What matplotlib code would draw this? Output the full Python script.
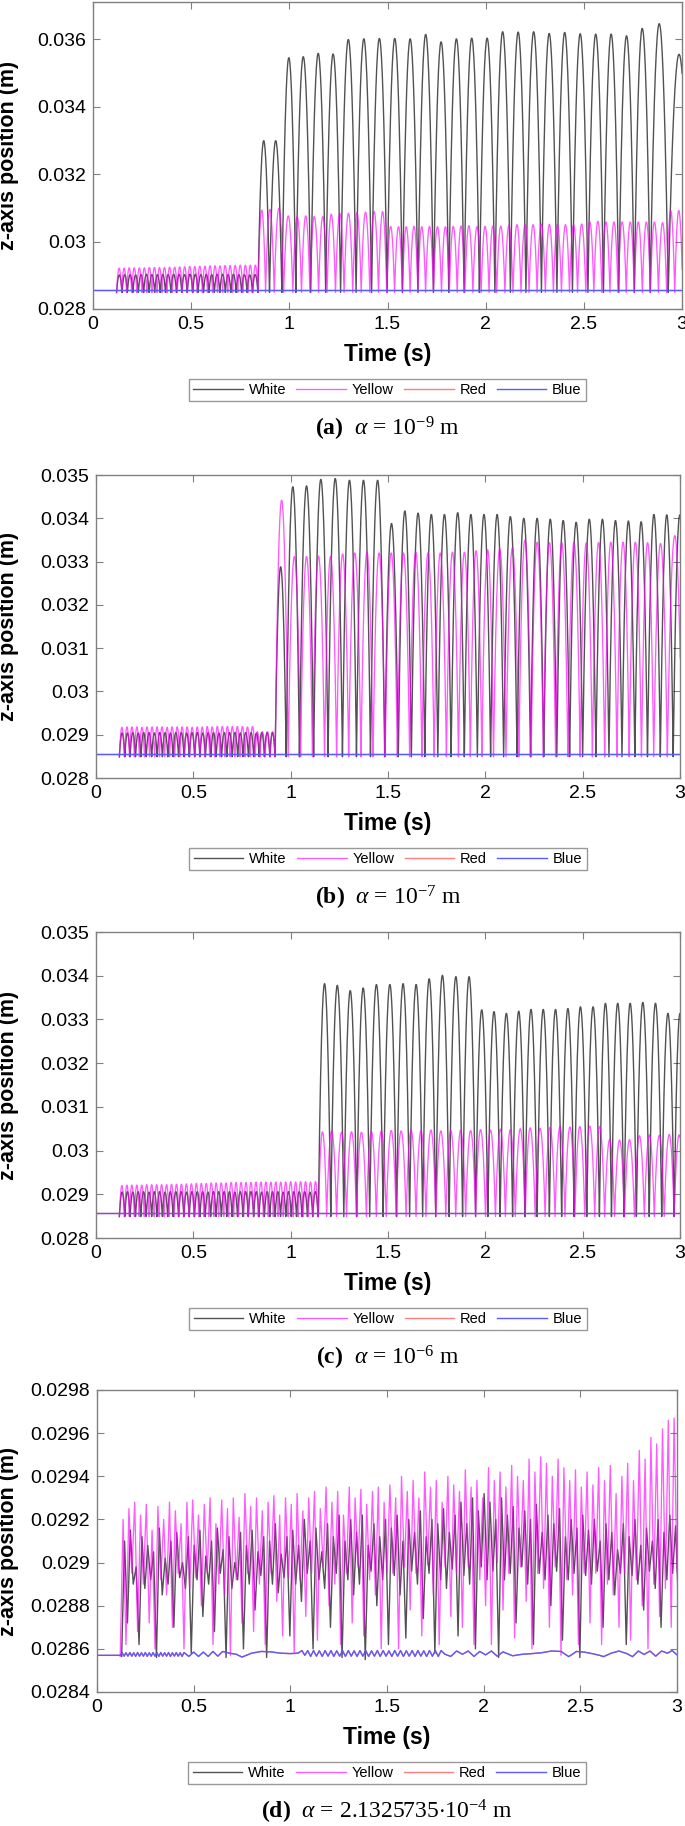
import numpy as np
import matplotlib
matplotlib.use("Agg")
import matplotlib.pyplot as plt
from matplotlib.ticker import FormatStrFormatter, MultipleLocator

plt.rcParams['font.family'] = ['Liberation Sans', 'DejaVu Sans']
plt.rcParams['mathtext.fontset'] = 'custom'
plt.rcParams['mathtext.rm'] = 'Liberation Serif'
plt.rcParams['mathtext.it'] = 'Liberation Serif:italic'
plt.rcParams['mathtext.bf'] = 'Liberation Serif:bold'

# ---------------- data (heights in mm, times in s) ----------------
BASE = 28.49          # lowest point of the bouncing spheres
BLUE_REST = 28.565    # blue / red sphere rest height

# panel (a) alpha = 1e-9
a_white_small_t = [0.120, 0.148, 0.175, 0.203, 0.231, 0.258, 0.286, 0.314, 0.342, 0.369, 0.397, 0.425, 0.452, 0.480,
                   0.508, 0.535, 0.563, 0.591, 0.618, 0.646, 0.674, 0.702, 0.729, 0.757, 0.785, 0.812, 0.840]
a_white_small_h = [29.01, 29.02, 29.02, 29.01, 29.02, 29.03, 29.02, 29.02, 29.03, 29.02, 29.03, 29.03, 29.02, 29.03,
                   29.03, 29.02, 29.03, 29.02, 29.03, 29.03, 29.02, 29.03, 29.02, 29.02, 29.01, 29.02]
a_yellow_small_t = [0.120, 0.146, 0.171, 0.197, 0.223, 0.249, 0.274, 0.300, 0.326, 0.351, 0.377, 0.403, 0.429, 0.454,
                    0.480, 0.506, 0.531, 0.557, 0.583, 0.609, 0.634, 0.660, 0.686, 0.711, 0.737, 0.763, 0.789, 0.814, 0.840]
a_yellow_small_h = [29.21, 29.21, 29.22, 29.22, 29.22, 29.22, 29.23, 29.23, 29.23, 29.23, 29.24, 29.24, 29.25, 29.25,
                    29.26, 29.26, 29.27, 29.27, 29.28, 29.28, 29.28, 29.29, 29.29, 29.29, 29.30, 29.30, 29.30, 29.30]
a_white_big_t = [0.840, 0.899, 0.962, 1.033, 1.109, 1.185, 1.261, 1.340, 1.419, 1.498, 1.576, 1.655, 1.734, 1.812,
                 1.890, 1.968, 2.047, 2.126, 2.205, 2.284, 2.363, 2.442, 2.521, 2.600, 2.678, 2.757, 2.838, 2.930, 3.040]
a_white_big_h = [32.99, 32.99, 35.45, 35.48, 35.58, 35.56, 35.99, 36.01, 36.02, 36.02, 36.01, 36.14, 35.92, 36.01,
                 36.03, 36.03, 36.22, 36.21, 36.22, 36.17, 36.20, 36.16, 36.15, 36.15, 36.10, 36.32, 36.46, 35.55]
a_yellow_big_t = [0.840, 0.879, 0.923, 0.971, 1.018, 1.062, 1.105, 1.149, 1.192, 1.235, 1.279, 1.323, 1.366, 1.410,
                  1.454, 1.496, 1.536, 1.576, 1.615, 1.655, 1.694, 1.734, 1.775, 1.815, 1.855, 1.894, 1.935, 1.977,
                  2.017, 2.056, 2.098, 2.139, 2.180, 2.221, 2.262, 2.304, 2.345, 2.386, 2.427, 2.468, 2.510, 2.551,
                  2.592, 2.633, 2.674, 2.716, 2.757, 2.798, 2.839, 2.880, 2.922, 2.963, 3.004]
a_yellow_big_h = [30.93, 30.95, 30.99, 30.76, 30.74, 30.76, 30.74, 30.74, 30.81, 30.84, 30.84, 30.86, 30.87, 30.89,
                  30.89, 30.45, 30.44, 30.44, 30.45, 30.44, 30.45, 30.44, 30.44, 30.45, 30.46, 30.47, 30.44, 30.45,
                  30.46, 30.46, 30.48, 30.50, 30.50, 30.50, 30.52, 30.51, 30.50, 30.50, 30.50, 30.52, 30.58, 30.60,
                  30.58, 30.58, 30.58, 30.58, 30.58, 30.58, 30.58, 30.56, 30.92, 30.92]

# panel (b) alpha = 1e-7
b_white_small_t = [0.120, 0.148, 0.175, 0.203, 0.231, 0.258, 0.286, 0.314, 0.341, 0.369, 0.396, 0.424, 0.452, 0.479,
                   0.507, 0.534, 0.562, 0.590, 0.617, 0.645, 0.672, 0.700, 0.728, 0.755, 0.783, 0.810, 0.838, 0.865,
                   0.893, 0.920]
b_white_small_h = [29.04, 29.04, 29.05, 29.04, 29.05, 29.05, 29.04, 29.05, 29.05, 29.04, 29.05, 29.05, 29.04, 29.05,
                   29.05, 29.04, 29.05, 29.05, 29.04, 29.05, 29.05, 29.05, 29.04, 29.05, 29.05, 29.04, 29.05, 29.05,
                   29.05]
b_yellow_small_t = [0.120, 0.146, 0.172, 0.197, 0.223, 0.249, 0.275, 0.301, 0.326, 0.352, 0.378, 0.404, 0.430, 0.455,
                    0.481, 0.507, 0.533, 0.559, 0.584, 0.610, 0.636, 0.662, 0.688, 0.713, 0.739, 0.765, 0.791, 0.817,
                    0.842, 0.868, 0.894, 0.920]
b_yellow_small_h = [29.17, 29.18, 29.18, 29.18, 29.17, 29.18, 29.18, 29.18, 29.18, 29.17, 29.18, 29.18, 29.18, 29.18,
                    29.17, 29.18, 29.18, 29.19, 29.18, 29.19, 29.19, 29.19, 29.19, 29.19, 29.19, 29.18, 29.19, 29.07,
                    29.07, 29.07, 29.07]
b_white_big_t = [0.920, 0.977, 1.045, 1.118, 1.192, 1.266, 1.338, 1.410, 1.483, 1.553, 1.620, 1.689, 1.756, 1.824,
                 1.892, 1.959, 2.027, 2.094, 2.163, 2.232, 2.300, 2.367, 2.433, 2.500, 2.568, 2.635, 2.702, 2.768,
                 2.833, 2.899, 2.965, 3.033]
b_white_big_h = [32.88, 34.73, 34.75, 34.90, 34.92, 34.88, 34.88, 34.88, 33.88, 34.17, 34.12, 34.09, 34.09, 34.13,
                 34.09, 34.09, 34.09, 34.04, 34.00, 34.00, 33.98, 33.95, 33.91, 33.98, 33.98, 33.95, 33.94, 33.92,
                 34.09, 34.08, 34.08]
b_yellow_big_t = [0.920, 0.987, 1.051, 1.112, 1.174, 1.236, 1.298, 1.361, 1.423, 1.485, 1.548, 1.611, 1.674, 1.737,
                  1.800, 1.862, 1.923, 1.982, 2.042, 2.106, 2.172, 2.235, 2.298, 2.361, 2.424, 2.487, 2.550, 2.613,
                  2.676, 2.739, 2.802, 2.865, 2.935, 3.011]
b_yellow_big_h = [34.42, 33.12, 33.12, 33.13, 33.12, 33.18, 33.20, 33.22, 33.20, 33.20, 33.20, 33.22, 33.20, 33.20,
                  33.22, 33.22, 33.25, 33.27, 33.30, 33.32, 33.50, 33.45, 33.44, 33.44, 33.44, 33.43, 33.44, 33.45,
                  33.45, 33.45, 33.44, 33.42, 33.60]

# panel (c) alpha = 1e-6
c_white_small_t = [0.120, 0.148, 0.175, 0.203, 0.230, 0.258, 0.286, 0.313, 0.341, 0.368, 0.396, 0.424, 0.451, 0.479,
                   0.506, 0.534, 0.561, 0.589, 0.617, 0.644, 0.672, 0.699, 0.727, 0.755, 0.782, 0.810, 0.837, 0.865,
                   0.893, 0.920, 0.948, 0.975, 1.003, 1.030, 1.058, 1.086, 1.113, 1.141]
c_white_small_h = [29.05, 29.06, 29.05, 29.06, 29.06, 29.05, 29.06, 29.06, 29.05, 29.06, 29.06, 29.06, 29.05, 29.06,
                   29.06, 29.06, 29.05, 29.06, 29.06, 29.06, 29.06, 29.05, 29.06, 29.06, 29.06, 29.06, 29.05, 29.06,
                   29.06, 29.06, 29.05, 29.06, 29.06, 29.06, 29.06, 29.05, 29.06]
c_yellow_small_t = [0.120, 0.146, 0.171, 0.197, 0.222, 0.248, 0.273, 0.299, 0.324, 0.350, 0.375, 0.401, 0.426, 0.452,
                    0.477, 0.503, 0.528, 0.554, 0.579, 0.605, 0.630, 0.656, 0.681, 0.707, 0.732, 0.758, 0.783, 0.809,
                    0.834, 0.860, 0.885, 0.911, 0.936, 0.962, 0.987, 1.013, 1.038, 1.064, 1.089, 1.115, 1.140]
c_yellow_small_h = [29.20, 29.21, 29.21, 29.21, 29.21, 29.22, 29.22, 29.22, 29.22, 29.22, 29.23, 29.23, 29.23, 29.24,
                    29.24, 29.25, 29.25, 29.25, 29.26, 29.26, 29.26, 29.26, 29.27, 29.27, 29.27, 29.27, 29.27, 29.28,
                    29.28, 29.28, 29.28, 29.28, 29.28, 29.28, 29.29, 29.28, 29.29, 29.29, 29.28, 29.29]
c_white_big_t = [1.142, 1.206, 1.273, 1.339, 1.406, 1.475, 1.544, 1.611, 1.678, 1.745, 1.814, 1.883, 1.950, 2.013,
                 2.076, 2.140, 2.203, 2.266, 2.329, 2.392, 2.456, 2.521, 2.586, 2.648, 2.712, 2.776, 2.842, 2.906,
                 2.970, 3.030]
c_white_big_h = [33.82, 33.78, 33.66, 33.72, 33.80, 33.80, 33.82, 33.80, 33.93, 34.01, 33.98, 33.98, 33.22, 33.18,
                 33.14, 33.19, 33.23, 33.23, 33.23, 33.25, 33.29, 33.29, 33.37, 33.37, 33.37, 33.39, 33.37, 33.14,
                 33.14]
c_yellow_big_t = [1.142, 1.185, 1.236, 1.287, 1.338, 1.389, 1.440, 1.491, 1.542, 1.593, 1.644, 1.695, 1.746, 1.797,
                  1.848, 1.899, 1.950, 2.001, 2.052, 2.103, 2.154, 2.205, 2.256, 2.307, 2.358, 2.409, 2.460, 2.511,
                  2.562, 2.613, 2.664, 2.715, 2.766, 2.817, 2.868, 2.919, 2.970, 3.021]
c_yellow_big_h = [30.43, 30.45, 30.42, 30.43, 30.42, 30.44, 30.45, 30.46, 30.45, 30.47, 30.46, 30.47, 30.45, 30.46,
                  30.47, 30.46, 30.48, 30.47, 30.49, 30.48, 30.50, 30.52, 30.51, 30.53, 30.55, 30.54, 30.55, 30.56,
                  30.55, 30.25, 30.24, 30.25, 30.34, 30.36, 30.35, 30.37, 30.36]

# panel (d) alpha = 2.1325735e-4 : sampled every D_STEP s from D_T0, alternating high / low readings
D_T0 = 0.12
D_STEP = 0.015
d_yellow_hi = [29.20, 29.25, 29.28, 29.22, 29.27, 29.15, 29.26, 29.20, 29.28, 29.24, 29.18, 29.28,
               29.29, 29.22, 29.27, 29.30, 29.18, 29.29, 29.25, 29.30, 29.21, 29.32, 29.26, 29.30, 29.24, 29.28, 29.31, 29.22, 29.30,
               29.27, 29.32, 29.24, 29.30, 29.33, 29.25, 29.35, 29.28, 29.33, 29.22, 29.35, 29.30, 29.34, 29.27, 29.33, 29.35, 29.28,
               29.36, 29.30, 29.40, 29.33, 29.38, 29.30, 29.42, 29.35, 29.38, 29.28, 29.40, 29.36, 29.33, 29.43, 29.35, 29.38, 29.30,
               29.44, 29.38, 29.42, 29.35, 29.45, 29.40, 29.38, 29.48, 29.42, 29.49, 29.46, 29.40, 29.48, 29.44, 29.38, 29.43, 29.35,
               29.42, 29.36, 29.44, 29.38, 29.45, 29.32, 29.40, 29.46, 29.38, 29.52, 29.48, 29.58, 29.55, 29.62, 29.66, 29.67]
d_yellow_lo = [28.62, 28.95, 28.68, 28.90, 28.72, 28.60, 28.92, 28.85, 28.70, 28.95, 28.60, 28.88,
               28.93, 28.80, 28.95, 28.62, 28.90, 28.85, 28.57, 28.92, 28.72, 28.95, 28.68, 28.90, 28.62, 28.95, 28.82, 28.66, 28.93,
               28.58, 28.92, 28.75, 28.95, 28.64, 28.98, 28.80, 28.90, 28.62, 28.95, 28.72, 28.98, 28.66, 28.92, 28.85, 28.60, 28.95,
               28.95, 28.60, 28.98, 28.78, 28.95, 28.66, 28.99, 28.85, 28.62, 28.98, 28.75, 28.95, 28.70, 28.98, 28.62, 28.92, 28.80,
               28.62, 29.00, 28.78, 28.95, 28.65, 28.98, 28.82, 28.60, 28.95, 28.88, 28.70, 28.98, 28.57, 28.92, 28.85, 28.62, 28.95,
               28.72, 28.95, 28.62, 28.90, 28.85, 28.70, 28.95, 28.64, 28.92, 28.80, 28.60, 28.90, 28.75, 28.88, 28.70, 28.96]
d_white_hi = [29.10, 29.15, 28.98, 29.12, 29.08, 29.05, 29.16, 29.02, 29.10, 29.14, 29.00, 29.12,
              29.08, 29.15, 29.03, 29.10, 29.16, 29.06, 29.12, 29.00, 29.14, 29.08, 29.15, 29.05, 29.12, 29.10, 29.18, 29.04, 29.12,
              29.15, 29.08, 29.20, 29.10, 29.16, 29.05, 29.18, 29.12, 29.22, 29.10, 29.20, 29.14, 29.22, 29.08, 29.18, 29.12, 29.20,
              29.16, 29.22, 29.10, 29.20, 29.14, 29.24, 29.12, 29.20, 29.18, 29.25, 29.14, 29.22, 29.28, 29.18, 29.30, 29.24, 29.32,
              29.28, 29.20, 29.30, 29.22, 29.26, 29.16, 29.24, 29.20, 29.27, 29.14, 29.22, 29.18, 29.25, 29.12, 29.20, 29.16, 29.22,
              29.15, 29.20, 29.10, 29.18, 29.14, 29.06, 29.18, 29.12, 29.20, 29.08, 29.16, 29.10, 29.20, 29.14, 29.22, 29.17]
d_white_lo = [28.72, 28.90, 28.62, 28.88, 28.92, 28.56, 28.85, 28.90, 28.70, 28.93, 28.88, 28.58,
              28.92, 28.75, 28.90, 28.68, 28.95, 28.56, 28.88, 28.92, 28.60, 28.90, 28.78, 28.94, 28.56, 28.90, 28.86, 28.93, 28.66,
              28.90, 28.82, 28.95, 28.60, 28.92, 28.88, 28.70, 28.95, 28.56, 28.92, 28.85, 28.90, 28.55, 28.96, 28.80, 28.92, 28.62,
              28.94, 28.85, 28.65, 28.96, 28.90, 28.74, 28.95, 28.58, 28.92, 28.88, 28.97, 28.66, 28.94, 28.90, 28.60, 28.98, 28.92,
              28.96, 28.56, 28.92, 28.95, 28.72, 28.98, 28.90, 28.62, 28.95, 28.92, 28.80, 28.96, 28.64, 28.92, 28.95, 28.56, 28.94,
              28.90, 28.96, 28.70, 28.92, 28.85, 28.95, 28.62, 28.94, 28.90, 28.78, 28.96, 28.88, 28.70, 28.92, 28.95, 28.80]
d_blue_t = [0.000, 0.120, 0.130, 0.140, 0.150, 0.160, 0.170, 0.180, 0.190, 0.200, 0.210, 0.220, 0.230, 0.240, 0.250,
            0.260, 0.270, 0.280, 0.290, 0.300, 0.310, 0.320, 0.330, 0.340, 0.350, 0.360, 0.370, 0.380, 0.390, 0.400,
            0.410, 0.420, 0.430, 0.440, 0.450,
            0.475, 0.500, 0.525, 0.550, 0.575, 0.600, 0.625, 0.650, 0.685, 0.720, 0.750, 0.800, 0.850, 0.900, 0.950,
            1.000, 1.040, 1.060, 1.075,
            1.090, 1.105, 1.120, 1.135, 1.150, 1.165, 1.180, 1.195, 1.210, 1.225, 1.240, 1.255, 1.270, 1.285, 1.300,
            1.315, 1.330, 1.345, 1.360, 1.375, 1.390, 1.405, 1.420, 1.435, 1.450, 1.465, 1.480, 1.495, 1.510, 1.525,
            1.540, 1.555, 1.570, 1.585, 1.600, 1.615, 1.630, 1.645, 1.660, 1.675, 1.690, 1.705, 1.720, 1.735, 1.750,
            1.765, 1.780, 1.800,
            1.830, 1.860, 1.890, 1.920, 1.950, 1.980, 2.010, 2.040, 2.070, 2.100, 2.150, 2.200, 2.250, 2.300, 2.350,
            2.400, 2.440, 2.480, 2.520, 2.560, 2.600, 2.620, 2.660, 2.700, 2.740, 2.770, 2.800, 2.830, 2.860, 2.890,
            2.920, 2.950, 2.975, 3.000]
d_blue_v = [28.570, 28.570, 28.582, 28.566, 28.582, 28.566, 28.583, 28.566, 28.582, 28.565, 28.583, 28.566, 28.582,
            28.566, 28.583, 28.565, 28.582, 28.566, 28.583, 28.566, 28.582, 28.565, 28.583, 28.566, 28.582, 28.566,
            28.583, 28.565, 28.582, 28.566, 28.583, 28.566, 28.582, 28.565, 28.583,
            28.565, 28.585, 28.565, 28.585, 28.565, 28.588, 28.566, 28.588, 28.580, 28.575, 28.562, 28.580, 28.588,
            28.586, 28.580, 28.578, 28.580, 28.592, 28.570,
            28.592, 28.565, 28.592, 28.566, 28.591, 28.565, 28.592, 28.566, 28.592, 28.565, 28.591, 28.566, 28.592,
            28.565, 28.592, 28.566, 28.591, 28.565, 28.592, 28.566, 28.592, 28.565, 28.591, 28.566, 28.592, 28.565,
            28.592, 28.566, 28.591, 28.565, 28.592, 28.566, 28.592, 28.565, 28.591, 28.566, 28.592, 28.565, 28.592,
            28.566, 28.591, 28.565, 28.592, 28.566, 28.592, 28.565, 28.592, 28.575,
            28.565, 28.590, 28.575, 28.590, 28.565, 28.588, 28.572, 28.590, 28.566, 28.586, 28.568, 28.575, 28.578,
            28.582, 28.590, 28.588, 28.564, 28.588, 28.585, 28.578, 28.570, 28.564, 28.580, 28.590, 28.578, 28.564,
            28.590, 28.574, 28.590, 28.566, 28.590, 28.580, 28.592, 28.572]

captions = [r'$\mathbf{(a)}$  $\alpha$ = 10$^{-9}$ m', r'$\mathbf{(b)}$  $\alpha$ = 10$^{-7}$ m',
            r'$\mathbf{(c)}$  $\alpha$ = 10$^{-6}$ m', r'$\mathbf{(d)}$  $\alpha$ = 2.1325735$\cdot$10$^{-4}$ m']
names = ['White', 'Yellow', 'Red', 'Blue']
colors = {'White': '#000000', 'Yellow': '#ff00ff', 'Red': '#ff0000', 'Blue': '#0000ff'}


def bounces(imp, peaks, n=40):
    ts, zs = [], []
    for t0, t1, h in zip(imp[:-1], imp[1:], peaks):
        t = np.linspace(t0, t1, n)
        u = (2 * t - t0 - t1) / (t1 - t0)
        ts.append(t)
        zs.append(BASE + (h - BASE) * (1 - u ** 2))
    return np.concatenate(ts), np.concatenate(zs) / 1000


def joined(*parts):
    return np.concatenate([p[0] for p in parts]), np.concatenate([p[1] for p in parts])


def hilo(t0, hi, lo):
    v = [BLUE_REST]
    for h, l in zip(hi, lo):
        v += [h, l]
    t = t0 + D_STEP * np.arange(len(v))
    return t, np.array(v) / 1000


series = [
    (joined(bounces(a_white_small_t, a_white_small_h), bounces(a_white_big_t, a_white_big_h)),
     joined(bounces(a_yellow_small_t, a_yellow_small_h), bounces(a_yellow_big_t, a_yellow_big_h)),
     (np.array([0, 3.0]), np.array([BLUE_REST, BLUE_REST]) / 1000)),
    (joined(bounces(b_white_small_t, b_white_small_h), bounces(b_white_big_t, b_white_big_h)),
     joined(bounces(b_yellow_small_t, b_yellow_small_h), bounces(b_yellow_big_t, b_yellow_big_h)),
     (np.array([0, 3.0]), np.array([BLUE_REST, BLUE_REST]) / 1000)),
    (joined(bounces(c_white_small_t, c_white_small_h), bounces(c_white_big_t, c_white_big_h)),
     joined(bounces(c_yellow_small_t, c_yellow_small_h), bounces(c_yellow_big_t, c_yellow_big_h)),
     (np.array([0, 3.0]), np.array([BLUE_REST, BLUE_REST]) / 1000)),
    (hilo(D_T0 + D_STEP / 2, d_white_hi, d_white_lo),
     hilo(D_T0, d_yellow_hi, d_yellow_lo),
     (np.array(d_blue_t), np.array(d_blue_v) / 1000)),
]

# ---------------- layout (pixels of the 685x1826 picture) ----------------
W, H = 685, 1826
boxes = [(93, 682, 2, 309), (96, 680, 475, 778), (96, 680, 932, 1238), (97, 677, 1390, 1692)]
ylims = [(0.028, 0.0371), (0.028, 0.035), (0.028, 0.035), (0.0284, 0.0298)]
ysteps = [0.002, 0.001, 0.001, 0.0002]

fig = plt.figure(figsize=(W / 100, H / 100), dpi=100)
for k, (left, right, top, bot) in enumerate(boxes):
    ax = fig.add_axes([left / W, 1 - bot / H, (right - left) / W, (bot - top) / H])
    (tw, zw), (ty, zy), (tb, zb) = series[k]
    ax.plot(tb, zb, color=colors['Red'], lw=1.0, alpha=0.5, label='Red')
    ax.plot(tw, zw, color=colors['White'], lw=1.0, alpha=0.68, label='White')
    ax.plot(ty, zy, color=colors['Yellow'], lw=0.95, alpha=0.65, label='Yellow')
    ax.plot(tb, zb, color='#5b5bff', lw=1.0, label='Blue')
    ax.set_xlim(0, 3)
    ax.set_ylim(*ylims[k])
    ax.xaxis.set_major_locator(MultipleLocator(0.5))
    ax.yaxis.set_major_locator(MultipleLocator(ysteps[k]))
    ax.xaxis.set_major_formatter(FormatStrFormatter('%g'))
    ax.yaxis.set_major_formatter(FormatStrFormatter('%g'))
    ax.tick_params(direction='in', top=True, right=True, length=5, width=0.8, color='#808080',
                   labelsize=14, pad=5)
    for s in ax.spines.values():
        s.set_color('#808080')
        s.set_linewidth(1.0)
    ax.set_ylabel('z-axis position (m)', fontsize=15.5, fontweight='bold')
    ax.yaxis.set_label_coords((19 - left) / (right - left), 0.5)
    cx = (left + right) / 2 / W
    fig.text(cx, 1 - (bot + 45) / H, 'Time (s)', fontsize=16.5, fontweight='bold', ha='center', va='center')
    hd = {l.get_label(): l for l in ax.get_lines()}
    leg = ax.legend([hd[n] for n in names], names, loc='center', bbox_to_anchor=(cx, 1 - (bot + 81) / H),
                    bbox_transform=fig.transFigure, ncol=4, fontsize=10.5, frameon=True, fancybox=False,
                    edgecolor='#808080', handlelength=3.4, handletextpad=0.4, columnspacing=0.7, borderpad=0.3)
    leg.get_frame().set_linewidth(1.0)
    fig.text(cx, 1 - (bot + 120) / H, captions[k], fontsize=17, ha='center', va='center',
             family='Liberation Serif')

fig.savefig('out.png', dpi=100)
